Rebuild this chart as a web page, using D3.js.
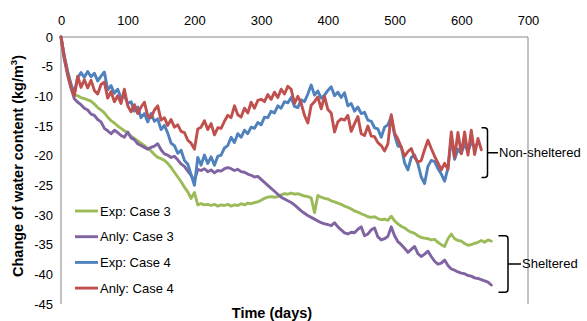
<!DOCTYPE html>
<html><head><meta charset="utf-8">
<script src="https://cdn.jsdelivr.net/npm/d3@7"></script>
<style>
html,body{margin:0;padding:0;background:#fff;}
svg{display:block;font-family:"Liberation Sans",Arial,sans-serif;}
</style></head>
<body><svg id="c" width="587" height="321"></svg>
<script>
// ---- data (sampled every 5 days) ----
const stepDays = 5;
const xTicks = [0,100,200,300,400,500,600,700];
const yTicks = [0,-5,-10,-15,-20,-25,-30,-35,-40,-45];
const seriesNames = ["Exp: Case 3","Anly: Case 3","Exp: Case 4","Anly: Case 4"];
const seriesColors = ["#9BBB59","#8064A2","#4F81BD","#C0504D"];

const expCase3 = [0,-3.5,-6,-8,-9.8,-9.9,-10.2,-10.4,-10.6,-10.8,-11.3,-11.9,-12.3,-12.8,-13.5,-14.1,-14.5,-15.0,-15.4,-15.8,
-16.2,-16.7,-17.1,-17.5,-17.9,-18.3,-18.8,-19.2,-19.8,-20.3,-20.5,-20.8,-21.3,-22.0,-22.8,-23.6,-24.4,-25.3,-26.1,-27.2,
-26.2,-28.3,-28.1,-28.3,-28.2,-28.4,-28.2,-28.5,-28.3,-28.4,-28.2,-28.5,-28.3,-28.4,-28.1,-28.3,-28.0,-28.1,-27.9,-27.8,
-27.5,-27.2,-27.0,-26.9,-27.0,-26.9,-26.6,-26.4,-26.5,-26.3,-26.5,-26.4,-26.6,-26.8,-26.9,-27.1,-29.6,-26.7,-27.0,-27.2,
-27.3,-27.6,-27.8,-28.0,-28.2,-28.5,-28.7,-29.0,-29.3,-29.5,-29.8,-30.0,-30.3,-30.4,-30.3,-30.6,-30.8,-30.7,-30.9,-30.2,
-31.0,-31.5,-31.9,-32.2,-32.6,-32.9,-33.1,-33.5,-33.8,-33.9,-34.0,-34.2,-34.1,-34.6,-35.0,-35.3,-34.0,-33.2,-34.0,-34.3,
-34.4,-34.8,-35.1,-35.0,-34.8,-34.6,-34.3,-34.6,-34.2,-34.4];

const anlyCase3 = [0,-3.8,-6.5,-8.6,-10.4,-11.0,-11.4,-12.0,-12.3,-13.0,-13.2,-13.9,-14.3,-15.4,-15.8,-16.3,-15.7,-16.1,-16.6,-16.9,
-16.0,-17.0,-17.3,-18.0,-18.3,-18.6,-18.9,-18.6,-18.4,-18.0,-19.0,-19.7,-19.9,-20.3,-20.1,-20.7,-21.4,-21.8,-22.6,-23.3,
-24.3,-22.3,-22.5,-22.2,-22.7,-22.4,-22.9,-22.5,-22.6,-22.2,-22.0,-22.2,-22.5,-22.3,-22.7,-22.8,-23.1,-23.3,-23.6,-23.5,
-24.0,-24.5,-25.0,-25.5,-26.0,-26.5,-27.0,-27.3,-27.6,-27.9,-28.3,-28.8,-29.3,-29.7,-30.1,-30.4,-30.7,-31.0,-31.3,-31.5,
-31.6,-31.8,-31.3,-32.0,-32.5,-33.0,-33.2,-32.9,-33.0,-32.4,-32.0,-33.5,-33.2,-32.5,-32.2,-33.7,-34.2,-34.0,-33.6,-32.0,
-33.5,-34.5,-35.0,-35.6,-36.3,-35.8,-35.3,-36.5,-37.0,-36.6,-36.1,-37.0,-37.8,-38.3,-38.1,-37.6,-38.5,-39.1,-39.3,-39.6,
-39.8,-39.9,-40.2,-40.3,-40.6,-40.7,-40.9,-41.1,-41.3,-41.8];

const expCase4 = [0,-3.2,-5.8,-8.0,-9.4,-6.9,-6.0,-6.8,-5.8,-6.7,-6.1,-7.4,-6.6,-5.9,-8.9,-8.2,-9.5,-8.8,-10.3,-9.9,
-11.2,-10.9,-12.5,-11.8,-13.6,-12.9,-14.3,-12.9,-14.2,-13.8,-15.6,-14.9,-16.2,-17.9,-18.3,-19.6,-19.1,-20.8,-21.4,-23.2,
-25.0,-20.3,-21.6,-19.9,-21.3,-20.2,-21.6,-20.1,-19.9,-18.7,-18.3,-16.9,-17.8,-16.3,-16.9,-15.7,-16.3,-15.2,-15.4,-14.4,
-14.8,-13.5,-13.6,-12.5,-12.8,-11.6,-12.0,-10.9,-11.1,-10.2,-11.7,-11.9,-10.6,-10.9,-9.6,-8.1,-9.8,-9.1,-10.3,-9.8,
-9.0,-8.4,-9.9,-9.3,-10.2,-9.4,-11.6,-11.2,-12.5,-11.8,-12.9,-12.7,-14.0,-14.2,-15.3,-15.5,-16.9,-15.2,-14.8,-13.4,
-16.5,-18.4,-18.5,-21.2,-22.4,-20.3,-19.9,-21.4,-23.6,-24.7,-21.8,-20.8,-21.0,-22.2,-23.1,-24.3,-22.1,-17.0,-20.6,-18.9,
-19.6,-18.0,-19.4,-17.7,-18.6,-17.9];

const anlyCase4 = [0,-3.4,-6.2,-8.5,-9.9,-6.6,-8.5,-7.2,-8.6,-7.3,-9.0,-9.6,-8.0,-7.6,-10.3,-9.2,-10.9,-9.9,-11.2,-8.8,
-11.6,-12.6,-11.4,-12.9,-11.8,-11.0,-13.3,-13.6,-12.3,-11.6,-14.0,-13.6,-14.9,-13.9,-15.2,-14.8,-15.9,-16.1,-17.4,-17.9,
-18.9,-15.5,-15.2,-14.1,-15.6,-14.6,-16.5,-15.3,-15.4,-14.2,-13.2,-13.6,-11.6,-13.1,-13.5,-12.0,-12.8,-11.0,-12.0,-10.7,
-10.5,-10.9,-9.7,-10.5,-9.3,-10.2,-8.8,-9.6,-8.3,-8.8,-11.2,-10.0,-11.2,-13.2,-14.5,-11.5,-10.9,-10.1,-12.1,-10.0,
-12.2,-12.8,-16.0,-14.3,-13.8,-14.0,-13.2,-15.9,-14.6,-13.4,-16.3,-16.6,-15.0,-16.7,-16.8,-17.8,-18.3,-19.2,-18.0,-13.1,
-16.2,-17.2,-18.6,-20.1,-19.3,-18.8,-20.3,-21.1,-20.8,-19.0,-17.4,-18.8,-20.1,-21.2,-22.4,-21.3,-22.3,-16.0,-20.3,-16.1,
-19.7,-16.0,-19.9,-15.7,-19.8,-17.1,-19.0];

const seriesValues = [expCase3, anlyCase3, expCase4, anlyCase4];
const groupLabels = ["Non-sheltered","Sheltered"];

// ---- drawing ----
const svg = d3.select("#c");
const x = d3.scaleLinear().domain([0,700]).range([61,528]);
const y = d3.scaleLinear().domain([0,-45]).range([37,304]);
const fs = 13;

// plot border (left, top, right)
svg.append("path").attr("d",`M${x(0)},${y(-45)}V${y(0)}H${x(700)}V${y(-45)}`)
  .attr("fill","none").attr("stroke","#868686").attr("stroke-width",1);

// axes (labels only)
const xAxis = svg.append("g").attr("transform",`translate(0,${y(0)})`)
  .call(d3.axisTop(x).tickValues(xTicks).tickSize(0).tickPadding(12).tickFormat(d3.format("d")));
const yAxis = svg.append("g").attr("transform",`translate(${x(0)},0)`)
  .call(d3.axisLeft(y).tickValues(yTicks).tickSize(0).tickPadding(8).tickFormat(d=>d===0?"0":String(d)));
[xAxis,yAxis].forEach(a=>{a.select(".domain").remove();
  a.selectAll("text").attr("font-size",fs).attr("fill","#000").attr("font-family","Liberation Sans, Arial, sans-serif");});

// series
const line = d3.line().x((d,i)=>x(i*stepDays)).y(d=>y(d));
seriesValues.forEach((vals,k)=>{
  svg.append("path").datum(vals).attr("d",line).attr("fill","none")
    .attr("stroke",seriesColors[k]).attr("stroke-width",2.9)
    .attr("stroke-linejoin","round").attr("stroke-linecap","round");
});

// legend
const lg = svg.append("g");
seriesNames.forEach((n,k)=>{
  const yy = 211 + k*25.7;
  lg.append("line").attr("x1",75).attr("x2",98).attr("y1",yy).attr("y2",yy)
    .attr("stroke",seriesColors[k]).attr("stroke-width",2.9);
  lg.append("text").attr("x",100).attr("y",yy+4.5).attr("font-size",fs).text(n);
});

// axis titles
svg.append("text").attr("x",272).attr("y",318).attr("text-anchor","middle")
  .attr("font-size",14.5).attr("font-weight","bold").text("Time (days)");
const yt = svg.append("text").attr("transform","translate(23,166) rotate(-90)")
  .attr("text-anchor","middle").attr("font-size",14.5).attr("font-weight","bold");
yt.append("tspan").text("Change of water content (kg/m");
yt.append("tspan").attr("font-size",9.5).attr("dy",-6).text("3");
yt.append("tspan").attr("dy",6).text(")");

// brackets
function bracket(xl, xv, y0, y1, xm){
  const ym=(y0+y1)/2, r=3;
  const p=`M${xl},${y0}H${xv-r}Q${xv},${y0} ${xv},${y0+r}V${y1-r}Q${xv},${y1} ${xv-r},${y1}H${xl}M${xv},${ym}H${xm}`;
  svg.append("path").attr("d",p).attr("fill","none").attr("stroke","#000").attr("stroke-width",1.5);
}
bracket(481.5, 487.5, y(-15.3), y(-23.7), 498);
svg.append("text").attr("x",499).attr("y",157).attr("font-size",fs).text(groupLabels[0]);
bracket(498.5, 508, y(-33.5), y(-43), 521);
svg.append("text").attr("x",522).attr("y",268).attr("font-size",fs).text(groupLabels[1]);
</script></body></html>
